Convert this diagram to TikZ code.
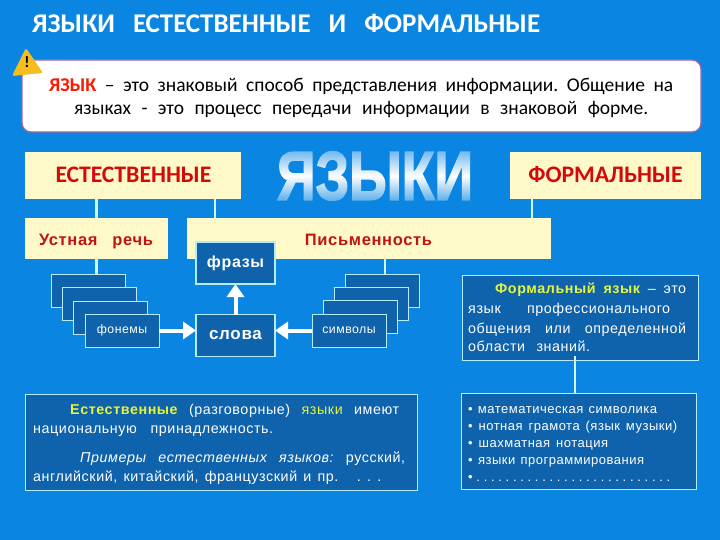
\documentclass[tikz,border=0pt]{standalone}
\usepackage{fontspec}
\usepackage{graphicx}
\setmainfont{Carlito}
\newfontfamily\arialfont[LetterSpace=4]{Liberation Sans}
\newfontfamily\metalfont[FakeBold=2.5]{Liberation Sans}
\usetikzlibrary{arrows,arrows.meta,shapes,fadings}
\definecolor{slidebg}{HTML}{0A86E2}
\definecolor{cream}{HTML}{FFF8C8}
\definecolor{darkbox}{HTML}{0F62AC}
\definecolor{paleline}{HTML}{B4ECFA}
\definecolor{headred}{HTML}{D40A0A}
\definecolor{subred}{HTML}{BE1414}
\definecolor{keyword}{HTML}{E4F53C}
\definecolor{warnyellow}{HTML}{F5BE1E}
\newcommand{\fitline}[2]{\makebox[#1][s]{\frenchspacing #2}}
\tikzfading[name=metalfade,top color=transparent!40,bottom color=transparent!30,middle color=transparent!100]
\tikzstyle{cream box}=[rectangle,fill=cream,outer sep=0pt,inner sep=0pt]
\tikzstyle{dark box}=[rectangle,draw=paleline,fill=darkbox,line width=0.9pt,outer sep=0pt,inner sep=0pt,text=white]
\tikzstyle{stack box}=[dark box,minimum width=74pt,minimum height=33pt]
\tikzstyle{word box}=[dark box,line width=1.5pt,minimum width=79pt,minimum height=42pt]
\tikzstyle{link}=[draw=paleline!60!white,line width=2.4pt]
\tikzstyle{big arrow}=[draw=white,line width=4pt,-{Triangle[length=13pt,width=17pt]}]
\tikzstyle{body line}=[anchor=base west,inner sep=0pt,text=white,font=\arialfont\fontsize{14.3}{16}\selectfont]
\tikzstyle{list line}=[body line,font=\arialfont\fontsize{13}{15}\selectfont]
\tikzstyle{call line}=[anchor=base west,inner sep=0pt,text=black,font=\fontsize{19.5}{21}\selectfont]
\begin{document}
\begin{tikzpicture}[x=1pt,y=-1pt]
    \fill[slidebg] (0,0) rectangle (720,540);
    \useasboundingbox (0,0) rectangle (720,540);

    % Heading and the white callout
    \node[anchor=base west,inner sep=0pt,text=white,font=\bfseries\fontsize{27}{28}\selectfont] (title) at (32,33)
        {\fitline{508pt}{ЯЗЫКИ ЕСТЕСТВЕННЫЕ И ФОРМАЛЬНЫЕ}};
    \node[rectangle,rounded corners=9pt,draw=black!25!violet!60!white,fill=white,line width=1.3pt,minimum width=679pt,minimum height=72pt] (callout) at (361.5,96) {};
    \fill[warnyellow,rounded corners=2pt] (12,76) -- (26,48) -- (43,73) -- cycle;
    \node[inner sep=0pt,font=\bfseries\fontsize{16}{16}\selectfont] (warnmark) at (27,62) {!};
    \node[call line] (callone) at (49,92) {\fitline{624pt}{{\bfseries\color{red!80!orange}ЯЗЫК} – это знаковый способ представления информации. Общение на}};
    \node[call line] (calltwo) at (74,115) {\fitline{574pt}{языках - это процесс передачи информации в знаковой форме.}};

    % The coloured boxes
    \foreach \pos/\name/\wid/\hei in {{(133,175.5)/natural/216pt/47pt}, {(605.5,175.5)/formal/191pt/47pt}, {(96.5,238.5)/oral/143pt/41pt}, {(369,238.5)/written/364pt/41pt}}
        \node[cream box,minimum width=\wid,minimum height=\hei] (\name) at \pos {};
    \node[anchor=base,inner sep=0pt,text=headred,font=\bfseries\fontsize{23.7}{25}\selectfont] (naturaltext) at (133.5,183) {ЕСТЕСТВЕННЫЕ};
    \node[anchor=base,inner sep=0pt,text=headred,font=\bfseries\fontsize{23.7}{25}\selectfont] (formaltext) at (605.5,183) {ФОРМАЛЬНЫЕ};
    \node[anchor=base,inner sep=0pt,text=subred,font=\arialfont\bfseries\fontsize{16.5}{18}\selectfont] (oraltext) at (96,245) {\fitline{114pt}{Устная речь}};
    \node[anchor=base,inner sep=0pt,text=subred,font=\arialfont\bfseries\fontsize{16.5}{18}\selectfont] (writtentext) at (368.5,245) {Письменность};

    % Big metal word
    \node[inner sep=0pt,text=white,font=\metalfont\bfseries] (bigword) at (375,176) {\resizebox{196pt}{48pt}{ЯЗЫКИ}};
    \fill[slidebg,path fading=metalfade] (275,150) rectangle (475,202);

    % Two stacks of boxes
    \foreach \pos/\name in {{(88,290.5)/pa}, {(99,303.5)/pb}, {(110,317.5)/pc}, {(382,290.5)/sa}, {(371.5,303.5)/sb}, {(360,316.5)/sc}}
        \node[stack box] (\name) at \pos {};
    \node[stack box,font=\arialfont\fontsize{12.3}{14}\selectfont] (phonemes) at (122,330.5) {фонемы};
    \node[stack box,font=\arialfont\fontsize{12.3}{14}\selectfont] (symbols) at (349,330.5) {символы};
    \node[word box,font=\arialfont\bfseries\fontsize{16}{18}\selectfont] (phrases) at (235.5,263) {фразы};
    \node[word box,font=\arialfont\bfseries\fontsize{17}{19}\selectfont] (words) at (235.5,335.5) {слова};

    % Connect boxes with lines
    \coordinate (wl) at (215,218);
    \coordinate (wr) at (532,218);
    \coordinate (sl) at (385,259);
    \coordinate (fl) at (575,356);
    \path[link] (natural.south -| oral) -- (oral.north);
    \path[link] (natural.south -| wl) -- (wl);
    \path[link] (formal.south -| wr) -- (wr);
    \path[link] (oral.south) -- (oral.south |- pa.north);
    \path[link] (sl) -- (sl |- sa.north);
    \path[big arrow] (phonemes.east) -- (words.west |- phonemes.east);
    \path[big arrow] (symbols.west) -- (words.east |- symbols.west);
    \path[big arrow] (words.north) -- (phrases.south);

    % Text panels
    \node[dark box,minimum width=392pt,minimum height=96pt] (natinfo) at (221,442) {};
    \node[dark box,minimum width=236pt,minimum height=85pt] (forminfo) at (580,317.5) {};
    \node[dark box,minimum width=235pt,minimum height=96pt] (formlist) at (578.5,441) {};
    \path[link] (fl) -- (fl |- formlist.north);

    \foreach \pos/\name/\wid/\txt in {
        {(70,414)/na/329pt/{{\bfseries\color{keyword}Естественные} (разговорные) {\color{keyword}языки} имеют}},
        {(33,433)/nb/240pt/{национальную принадлежность.}},
        {(80,462)/nc/325pt/{\itshape Примеры естественных языков: \upshape русский,}},
        {(33,481)/nd/348pt/{английский, китайский, французский и пр.\ \ \ .\ .\ .}},
        {(495,293)/fa/191pt/{{\bfseries\color{keyword}Формальный язык} – это}},
        {(468,313)/fb/202pt/{язык\ \ профессионального}},
        {(468,333)/fc/218pt/{общения или определенной}},
        {(468,351)/fd/122pt/{области знаний.}}}
        \node[body line] (\name) at \pos {\fitline{\wid}{\txt}};
    \foreach \pos/\name/\wid/\txt in {
        {(468,413)/la/189pt/{• математическая символика}},
        {(468,430)/lb/209pt/{• нотная грамота\ (язык музыки)}},
        {(468,447)/lc/140pt/{• шахматная нотация}},
        {(468,464)/ld/176pt/{• языки программирования}},
        {(468,481)/le/202pt/{• . . . . . . . . . . . . . . . . . . . . . . . . . . .}}}
        \node[list line] (\name) at \pos {\fitline{\wid}{\txt}};
\end{tikzpicture}
\end{document}
